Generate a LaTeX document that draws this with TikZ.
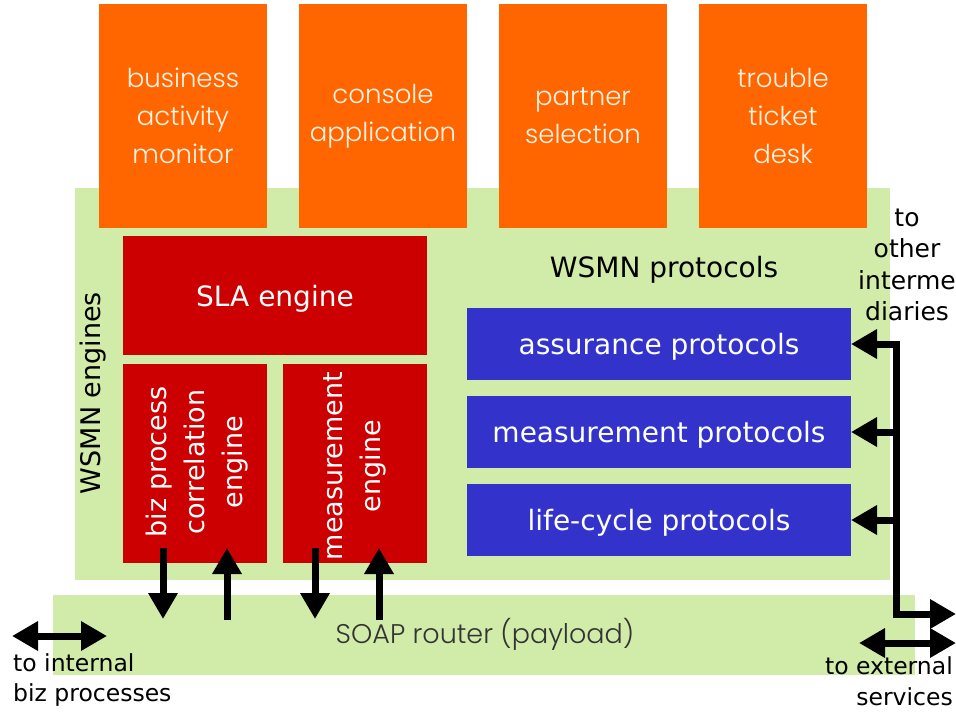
\documentclass[tikz,border=0pt]{standalone}
\usepackage{fontspec}
\setmainfont{DejaVu Sans}
\IfFontExistsTF{Poppins Light}{\newfontfamily\futfont{Poppins Light}}{\newfontfamily\futfont{Poppins}}
\usetikzlibrary{arrows.meta}
\definecolor{orng}{HTML}{FF6600}
\definecolor{lgreen}{HTML}{D1EBA9}
\definecolor{dred}{HTML}{CC0000}
\definecolor{pblue}{HTML}{3333CC}
\definecolor{cream}{HTML}{FFF3E6}
\definecolor{dgray}{HTML}{333333}
\begin{document}
\begin{tikzpicture}[x=1pt,y=-1pt,
  box/.style={draw=none, inner sep=0pt, outer sep=0pt, anchor=north west, align=center},
  appbox/.style={box, fill=orng, minimum width=168pt, minimum height=224pt, text=cream,
    font=\futfont\fontsize{26}{38}\selectfont},
  panel/.style={box, fill=lgreen},
  redbox/.style={box, fill=dred, text=white},
  bluebox/.style={box, fill=pblue, minimum width=384pt, minimum height=72pt},
  lbl/.style={inner sep=0pt, align=center},
  boxtext/.style={lbl, text=white, font=\fontsize{28}{34}\selectfont},
  tip/.tip={Triangle[width=28pt,length=26pt]},
  arr/.style={line width=7pt, -tip},
  dbl/.style={line width=7pt, tip-tip},
]
\useasboundingbox (0,0) rectangle (956,713);

% green panels
\node[panel, minimum width=815pt, minimum height=392pt] (engines) at (75,188) {};
\node[panel, minimum width=862pt, minimum height=80pt] (soap) at (53,595) {};
\node[lbl, text=dgray, font=\futfont\fontsize{27}{30}\selectfont] (soaplbl) at (485,634) {SOAP router (payload)};

% applications
\node[appbox] (bam) at (99,4) {business\\activity\\monitor};
\node[appbox] (console) at (299,4) {console\\application};
\node[appbox] (partner) at (499,4) {partner\\selection};
\node[appbox] (trouble) at (699,4) {trouble\\ticket\\desk};

% engines
\node[lbl, rotate=90, font=\fontsize{27}{30}\selectfont] (wsmneng) at (93,393) {WSMN engines};
\node[redbox, minimum width=304pt, minimum height=119pt] (sla) at (123,236) {};
\node[boxtext] (slalbl) at ([yshift=-3pt]sla.center) {SLA engine};
\node[redbox, minimum width=144pt, minimum height=199pt] (biz) at (123,364) {};
\node[lbl, rotate=90, text=white, font=\fontsize{27}{38}\selectfont] (bizlbl) at (197,462) {biz process\\correlation\\engine};
\node[redbox, minimum width=144pt, minimum height=199pt] (meng) at (283,364) {};
\node[lbl, rotate=90, text=white, font=\fontsize{27}{38}\selectfont] (menglbl) at (355,466) {measurement\\engine};

% protocols
\node[lbl, font=\fontsize{28}{30}\selectfont] (wsmnprot) at (664,270) {WSMN protocols};
\node[bluebox] (assur) at (467,308) {};
\node[bluebox] (mprot) at (467,396) {};
\node[bluebox] (lprot) at (467,484) {};
\node[boxtext] (assurlbl) at ([yshift=-3pt]assur.center) {assurance protocols};
\node[boxtext] (mprotlbl) at ([yshift=-3pt]mprot.center) {measurement protocols};
\node[boxtext] (lprotlbl) at ([yshift=-3pt]lprot.center) {life-cycle protocols};

% outside labels
\node[lbl, font=\fontsize{25}{31.5}\selectfont] (other) at (907,265) {to\\other\\interme\\diaries};
\node[lbl, anchor=north west, align=left, font=\fontsize{23.5}{30}\selectfont] (internal) at (13,653) {to internal\\biz processes};
\node[lbl, anchor=north east, align=right, font=\fontsize{23.5}{31}\selectfont] (external) at (953,656) {to external\\services};

% connectors
\coordinate (bus) at (896,343);
\coordinate (extA) at (956,614);
\draw[dbl] (assur.east) -- (assur.east -| bus) -- (bus |- extA) -- (extA);
\draw[arr] (mprot.east -| bus) -- (mprot.east);
\draw[arr] (lprot.east -| bus) -- (lprot.east);

\coordinate (extL) at (859,643);
\coordinate (extR) at (956,643);
\draw[dbl] (extL) -- (extR);

\coordinate (intL) at (12,636);
\coordinate (intR) at (107,636);
\draw[dbl] (intL) -- (intR);

\coordinate (b1t) at (163,548); \coordinate (b1b) at (163,619);
\coordinate (b2t) at (227,548); \coordinate (b2b) at (227,620);
\coordinate (m1t) at (315,548); \coordinate (m1b) at (315,619);
\coordinate (m2t) at (379,548); \coordinate (m2b) at (379,620);
\draw[arr] (b1t) -- (b1b);
\draw[arr] (b2b) -- (b2t);
\draw[arr] (m1t) -- (m1b);
\draw[arr] (m2b) -- (m2t);
\end{tikzpicture}
\end{document}
